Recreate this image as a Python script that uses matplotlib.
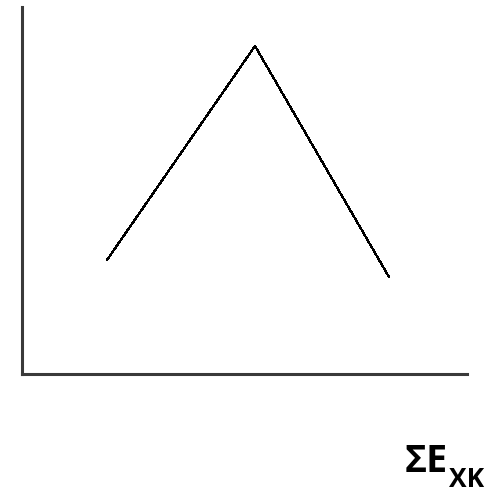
import matplotlib
matplotlib.use("Agg")
import matplotlib.pyplot as plt

# data (in axis units)
x_vals = [85, 233, 367]
y_vals = [114, 328, 97]
label_main = "ΣE"
label_sub = "XK"

W, H = 500, 494
fig = plt.figure(figsize=(W / 100, H / 100), dpi=100)
ax = fig.add_axes([22 / W, 1 - 374 / H, (467 - 22) / W, (374 - 7) / H])
ax.plot(x_vals, y_vals, color="black", lw=0.9, antialiased=False)
ax.set_xlim(0, 445)
ax.set_ylim(0, 367)
ax.set_xticks([])
ax.set_yticks([])
for s in ["top", "right"]:
    ax.spines[s].set_visible(False)
for s in ["left", "bottom"]:
    ax.spines[s].set_color("#3a3a3a")
    ax.spines[s].set_linewidth(2.2)
ax.spines["left"].set_capstyle("projecting")

fig.text(405 / W, 1 - 472 / H, label_main, fontsize=27, fontweight="bold",
         family="Open Sans", ha="left", va="baseline")
fig.text(449 / W, 1 - 487 / H, label_sub, fontsize=19, fontweight="bold",
         family="Open Sans", ha="left", va="baseline")

fig.savefig("out.png", dpi=100)
